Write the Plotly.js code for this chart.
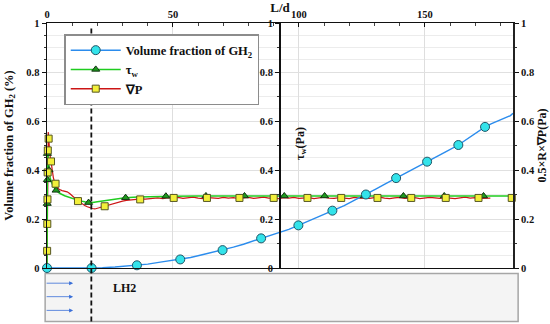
<!DOCTYPE html>
<html>
<head>
<meta charset="utf-8">
<script src="https://cdn.plot.ly/plotly-3.0.1.min.js"></script>
<style>html,body{margin:0;padding:0;background:#fff;}</style>
</head>
<body>
<div id="chart" style="width:550px;height:324px;"></div>
<script>
// ---------------- DATA ----------------
const seriesNames = ['Volume fraction of GH<sub>2</sub>', 'τ<sub>w</sub>', '∇P'];

// Volume fraction of GH2 (line)
const gasX = [0,17.6,22,27,32,35.7,40,45,50,52.9,57,62,66,69.7,74,78,82,85,88,92,96,99.8,104,108.5,113.3,118,122.5,126.6,130.5,134.5,138.6,142.5,146.7,150.9,155,159,163.3,167,170.5,173.9,176.5,179,181.5,184,185];
const gasY = [0,0,0.001,0.004,0.008,0.011,0.016,0.024,0.031,0.035,0.043,0.055,0.065,0.073,0.085,0.097,0.11,0.121,0.131,0.144,0.158,0.174,0.192,0.212,0.234,0.255,0.279,0.30,0.322,0.344,0.367,0.389,0.411,0.434,0.456,0.478,0.502,0.527,0.553,0.576,0.589,0.599,0.609,0.622,0.632];
// Volume fraction markers
const gasMX = [0,17.7,35.7,52.9,69.7,85,99.8,113.3,126.6,138.6,150.9,163.3,173.9];
const gasMY = [0,0,0.011,0.035,0.073,0.121,0.174,0.234,0.30,0.367,0.434,0.502,0.576];

// Wall shear stress tau_w (line)
const tauX = [0,0.05,0.1,0.15,0.2,0.3,0.5,0.8,1.2,1.8,2.6,3.6,5,7,9,11,13,15,17.5,20,23,27,31,36,42,50,60,80,100,120,140,160,185];
const tauY = [0,0.2,0.3,0.42,0.49,0.48,0.44,0.40,0.37,0.35,0.332,0.317,0.305,0.295,0.287,0.28,0.274,0.27,0.266,0.27,0.275,0.281,0.287,0.29,0.292,0.293,0.294,0.294,0.294,0.294,0.294,0.294,0.294];
// tau_w markers
const tauMX = [0.09,0.13,0.18,0.8,3.6,16.5,31.2,47.2,63.1,78.4,94.2,110.2,126,141.5,157.7,173.3];
const tauMY = [0.263,0.36,0.467,0.40,0.317,0.267,0.287,0.293,0.294,0.294,0.294,0.294,0.294,0.294,0.294,0.294];

// Pressure gradient (line)
const dpX = [0,0.1,0.2,0.3,0.4,0.5,0.65,0.9,1.2,1.6,2.0,2.5,3.0,3.4,4.2,5.0,6.0,7.0,8.0,9.0,10,11,12,13,14,15,16,17,18,19,20,21,22,23,24,25,26,27,28,29,30,31.5,33,34.5,36,37.5,39,40.5,42,44,46,48,50,52,54,56,58,60,62,64,66,68,70,72,74,76,78,80,82,84,86,88,90,92,94,96,98,100,102,104,106,108,110,112,114,116,118,120,122,124,126,128,130,132,134,136,138,140,142,144,146,148,150,152,154,156,158,160,162,164,166,168,170,172,174,176,178,180,182,185];
const dpY = [0,0.15,0.3,0.45,0.53,0.555,0.53,0.49,0.46,0.435,0.40,0.37,0.35,0.34,0.328,0.32,0.316,0.314,0.311,0.304,0.296,0.286,0.276,0.268,0.261,0.255,0.25,0.245,0.243,0.241,0.244,0.246,0.249,0.252,0.256,0.259,0.262,0.266,0.268,0.271,0.273,0.276,0.278,0.279,0.281,0.282,0.281,0.283,0.284,0.286,0.283,0.287,0.285,0.288,0.284,0.286,0.289,0.285,0.283,0.287,0.286,0.284,0.288,0.285,0.287,0.283,0.286,0.288,0.284,0.286,0.289,0.285,0.286,0.283,0.287,0.285,0.288,0.284,0.286,0.287,0.283,0.286,0.289,0.285,0.284,0.287,0.286,0.283,0.288,0.285,0.286,0.284,0.287,0.289,0.285,0.283,0.286,0.288,0.284,0.286,0.287,0.283,0.285,0.288,0.286,0.284,0.287,0.285,0.283,0.286,0.289,0.285,0.287,0.284,0.286,0.285];
// Pressure gradient markers
const dpMX = [0.05,0.12,0.19,0.26,0.32,0.65,1.6,3.4,12.3,22.9,37,50.3,63.5,76.4,90,103.4,116.8,131.2,144.6,158.3,171.3,184.5];
const dpMY = [0.07,0.18,0.28,0.39,0.48,0.528,0.435,0.344,0.273,0.252,0.28,0.286,0.286,0.286,0.286,0.286,0.286,0.286,0.286,0.286,0.286,0.286];

// Vertical reference line position (L/d)
const dashX = 17.6;

// Axis labels
const xTitle = 'L/d';
const yTitle = 'Volume fraction of GH<sub>2</sub> (%)';
const y2Title = 'τ<sub>w</sub>(Pa)';
const y3Title = '0.5×R×∇P(Pa)';
const zoneLabel = 'LH2';

// ---------------- STYLE ----------------
const FONT = 'Liberation Serif, Times New Roman, serif';
const blue = '#2b8ced', cyan = '#33e3ea';
const green = '#1fcc1f', greenFill = '#1d9a1d';
const red = '#cc1515', yellow = '#f2ef3a';

const mkBlue = {symbol:'circle', size:9, color:cyan, line:{color:'#1f5566', width:1}};
const mkGreen = {symbol:'triangle-up', size:7, color:greenFill, line:{color:'#123312', width:1}};
const mkYellow = {symbol:'square', size:7, color:yellow, line:{color:'#555522', width:1}};

const traces = [
  // legend entries
  {x:[null], y:[null], mode:'lines+markers', name:seriesNames[0], line:{color:blue, width:1.5}, marker:mkBlue},
  {x:[null], y:[null], mode:'lines+markers', name:seriesNames[1], line:{color:green, width:1.5}, marker:mkGreen},
  {x:[null], y:[null], mode:'lines+markers', name:seriesNames[2], line:{color:red, width:1.5}, marker:mkYellow},
  // curves
  {x:dpX, y:dpY, mode:'lines', line:{color:red, width:1.2}, showlegend:false, hoverinfo:'skip'},
  {x:tauX, y:tauY, mode:'lines', line:{color:green, width:1.5}, showlegend:false, hoverinfo:'skip'},
  {x:gasX, y:gasY, mode:'lines', line:{color:blue, width:1.4}, showlegend:false, hoverinfo:'skip'},
  {x:tauMX, y:tauMY, mode:'markers', marker:mkGreen, showlegend:false, cliponaxis:false},
  {x:dpMX, y:dpMY, mode:'markers', marker:mkYellow, showlegend:false, cliponaxis:false},
  {x:gasMX, y:gasMY, mode:'markers', marker:mkBlue, showlegend:false, cliponaxis:false},
  // axes carriers
  {x:[], y:[], yaxis:'y2', showlegend:false},
  {x:[], y:[], yaxis:'y3', showlegend:false}
];

const yCommon = {range:[0,1], dtick:0.2, tick0:0, ticks:'outside', ticklen:4, tickwidth:1, tickcolor:'#111',
  showline:true, linecolor:'#111', linewidth:1.5, zeroline:false, automargin:false,
  tickfont:{size:10.5, family:FONT, weight:'bold', color:'#111'}};

const layout = {
  width:550, height:324,
  margin:{l:47, r:37, t:23, b:56, pad:0},
  paper_bgcolor:'#fff', plot_bgcolor:'#fff',
  font:{family:FONT, size:11, color:'#111', weight:'bold'},
  showlegend:true,
  legend:{x:0.037, y:0.955, xanchor:'left', yanchor:'top', bgcolor:'#fff', bordercolor:'#8c8c8c', borderwidth:1.5,
    font:{size:12.5, family:FONT, weight:'bold', color:'#111'}, itemwidth:50, entrywidth:150, entrywidthmode:'pixels', tracegroupgap:0},
  xaxis:{side:'top', range:[0,185], dtick:50, tick0:0, ticks:'inside', ticklen:4, tickcolor:'#111',
    minor:{dtick:10, ticks:'inside', ticklen:3, tickcolor:'#444', showgrid:false},
    showgrid:true, gridcolor:'#dedede', gridwidth:1, zeroline:false,
    showline:true, linecolor:'#111', linewidth:1.3, mirror:true, automargin:false,
    tickfont:{size:10.5, family:FONT, weight:'bold'},
    title:{text:xTitle, font:{size:13, family:FONT, weight:'bold'}, standoff:1}},
  yaxis:Object.assign({}, yCommon, {
    showgrid:true, gridcolor:'#e0e0e0',
    minor:{dtick:0.05, showgrid:true, gridcolor:'#ececec', ticks:'outside', ticklen:2, tickcolor:'#333'},
    title:{text:yTitle, font:{size:12.5, family:FONT, weight:'bold'}, standoff:10}}),
  yaxis2:Object.assign({}, yCommon, {overlaying:'y', anchor:'free', position:0.498, side:'left', showgrid:false,
    minor:{dtick:0.1, ticks:'outside', ticklen:2, tickcolor:'#333'}}),
  yaxis3:Object.assign({}, yCommon, {overlaying:'y', anchor:'x', side:'right', showgrid:false, linewidth:2, linecolor:'#222',
    minor:{dtick:0.1, ticks:'outside', ticklen:2, tickcolor:'#333'},
    title:{text:y3Title, font:{size:12, family:FONT, weight:'bold'}, standoff:4}}),
  shapes:[
    {type:'rect', xref:'paper', yref:'paper', x0:-0.004, x1:1.011, y0:-0.218, y1:-0.022,
      fillcolor:'#f4f4f4', line:{color:'#a6a6a6', width:1.5}, layer:'below'},
    {type:'line', xref:'x', yref:'paper', x0:dashX, x1:dashX, y0:-0.218, y1:0.98,
      line:{color:'#111', width:1.8, dash:'5px,3px'}}
  ],
  annotations:[
    {xref:'paper', yref:'paper', x:0.545, y:0.51, text:y2Title, textangle:-90, showarrow:false,
      font:{size:12, family:FONT, weight:'bold'}},
    {xref:'paper', yref:'paper', x:0.138, y:-0.12, text:zoneLabel, showarrow:false,
      font:{size:12, family:FONT, weight:'bold'}},
    {xref:'paper', yref:'paper', x:0.056, y:-0.062, ax:-28, ay:0, text:'', showarrow:true, arrowhead:2, arrowsize:1, arrowwidth:0.8, arrowcolor:'#3a6fd8'},
    {xref:'paper', yref:'paper', x:0.056, y:-0.117, ax:-28, ay:0, text:'', showarrow:true, arrowhead:2, arrowsize:1, arrowwidth:0.8, arrowcolor:'#3a6fd8'},
    {xref:'paper', yref:'paper', x:0.056, y:-0.173, ax:-28, ay:0, text:'', showarrow:true, arrowhead:2, arrowsize:1, arrowwidth:0.8, arrowcolor:'#3a6fd8'}
  ]
};

Plotly.newPlot('chart', traces, layout, {displayModeBar:false, staticPlot:true});
</script>
</body>
</html>
